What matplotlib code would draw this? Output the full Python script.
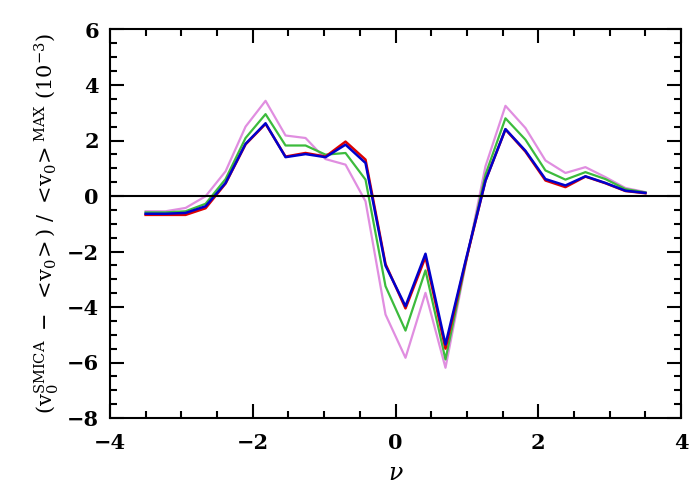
import numpy as np
import matplotlib
matplotlib.use("Agg")
import matplotlib.pyplot as plt
from matplotlib.ticker import MultipleLocator

# nu bins
nu = [-3.50, -3.22, -2.94, -2.66, -2.38, -2.10, -1.82, -1.54, -1.26, -0.98,
      -0.70, -0.42, -0.14, 0.14, 0.42, 0.70, 0.98, 1.26, 1.54, 1.82,
      2.10, 2.38, 2.66, 2.94, 3.22, 3.50]

# relative differences (10^-3)
violet = [-0.55, -0.55, -0.43, -0.01, 0.89, 2.50, 3.43, 2.18, 2.09, 1.33,
          1.13, -0.19, -4.27, -5.83, -3.49, -6.19, -2.50, 1.07, 3.25, 2.45,
          1.28, 0.83, 1.04, 0.68, 0.29, 0.14]
green = [-0.59, -0.59, -0.55, -0.28, 0.61, 2.09, 2.95, 1.82, 1.82, 1.49,
         1.55, 0.59, -3.25, -4.85, -2.68, -5.89, -2.45, 0.77, 2.80, 2.03,
         0.92, 0.59, 0.86, 0.61, 0.25, 0.13]
red = [-0.68, -0.68, -0.68, -0.44, 0.45, 1.86, 2.60, 1.42, 1.55, 1.42,
       1.96, 1.31, -2.45, -4.05, -2.20, -5.50, -2.40, 0.55, 2.40, 1.60,
       0.56, 0.32, 0.70, 0.46, 0.18, 0.10]
blue = [-0.64, -0.64, -0.61, -0.37, 0.47, 1.88, 2.62, 1.40, 1.51, 1.40,
        1.85, 1.19, -2.51, -3.97, -2.08, -5.35, -2.35, 0.55, 2.41, 1.63,
        0.61, 0.38, 0.71, 0.47, 0.19, 0.11]

plt.rcParams['font.family'] = ['DejaVu Serif']
plt.rcParams['mathtext.fontset'] = 'dejavuserif'

fig = plt.figure(figsize=(7, 5), dpi=100)
ax = fig.add_axes([0.157, 0.164, 0.816, 0.777])

ax.plot(nu, violet, color='#e08ee0', lw=1.6)
ax.plot(nu, green, color='#3cbb3c', lw=1.6)
ax.plot(nu, red, color='#dd0000', lw=1.8)
ax.plot(nu, blue, color='#0000cc', lw=1.8)
ax.axhline(0, color='black', lw=1.5)

ax.set_xlim(-4, 4)
ax.set_ylim(-8, 6)
ax.xaxis.set_major_locator(MultipleLocator(2))
ax.xaxis.set_minor_locator(MultipleLocator(0.5))
ax.yaxis.set_major_locator(MultipleLocator(2))
ax.yaxis.set_minor_locator(MultipleLocator(0.5))
ax.tick_params(which='both', direction='in', top=True, right=True,
               width=1.5, labelsize=15)
ax.tick_params(which='major', length=10)
ax.tick_params(which='minor', length=5)
ax.tick_params(axis='x', pad=11)
ax.tick_params(axis='y', pad=8)
for lab in ax.get_xticklabels() + ax.get_yticklabels():
    lab.set_fontweight('bold')
for s in ax.spines.values():
    s.set_linewidth(1.5)

ax.set_xlabel(r'$\nu$', fontsize=17, labelpad=6)
ax.set_ylabel(r'$(\mathrm{v}_0^{\rm SMICA}\ -\ <\!\mathrm{v}_0\!>)\ /\ <\!\mathrm{v}_0\!>^{\rm MAX}\ (10^{-3})$',
              fontsize=15, labelpad=4)

fig.savefig('out.png', dpi=100)
